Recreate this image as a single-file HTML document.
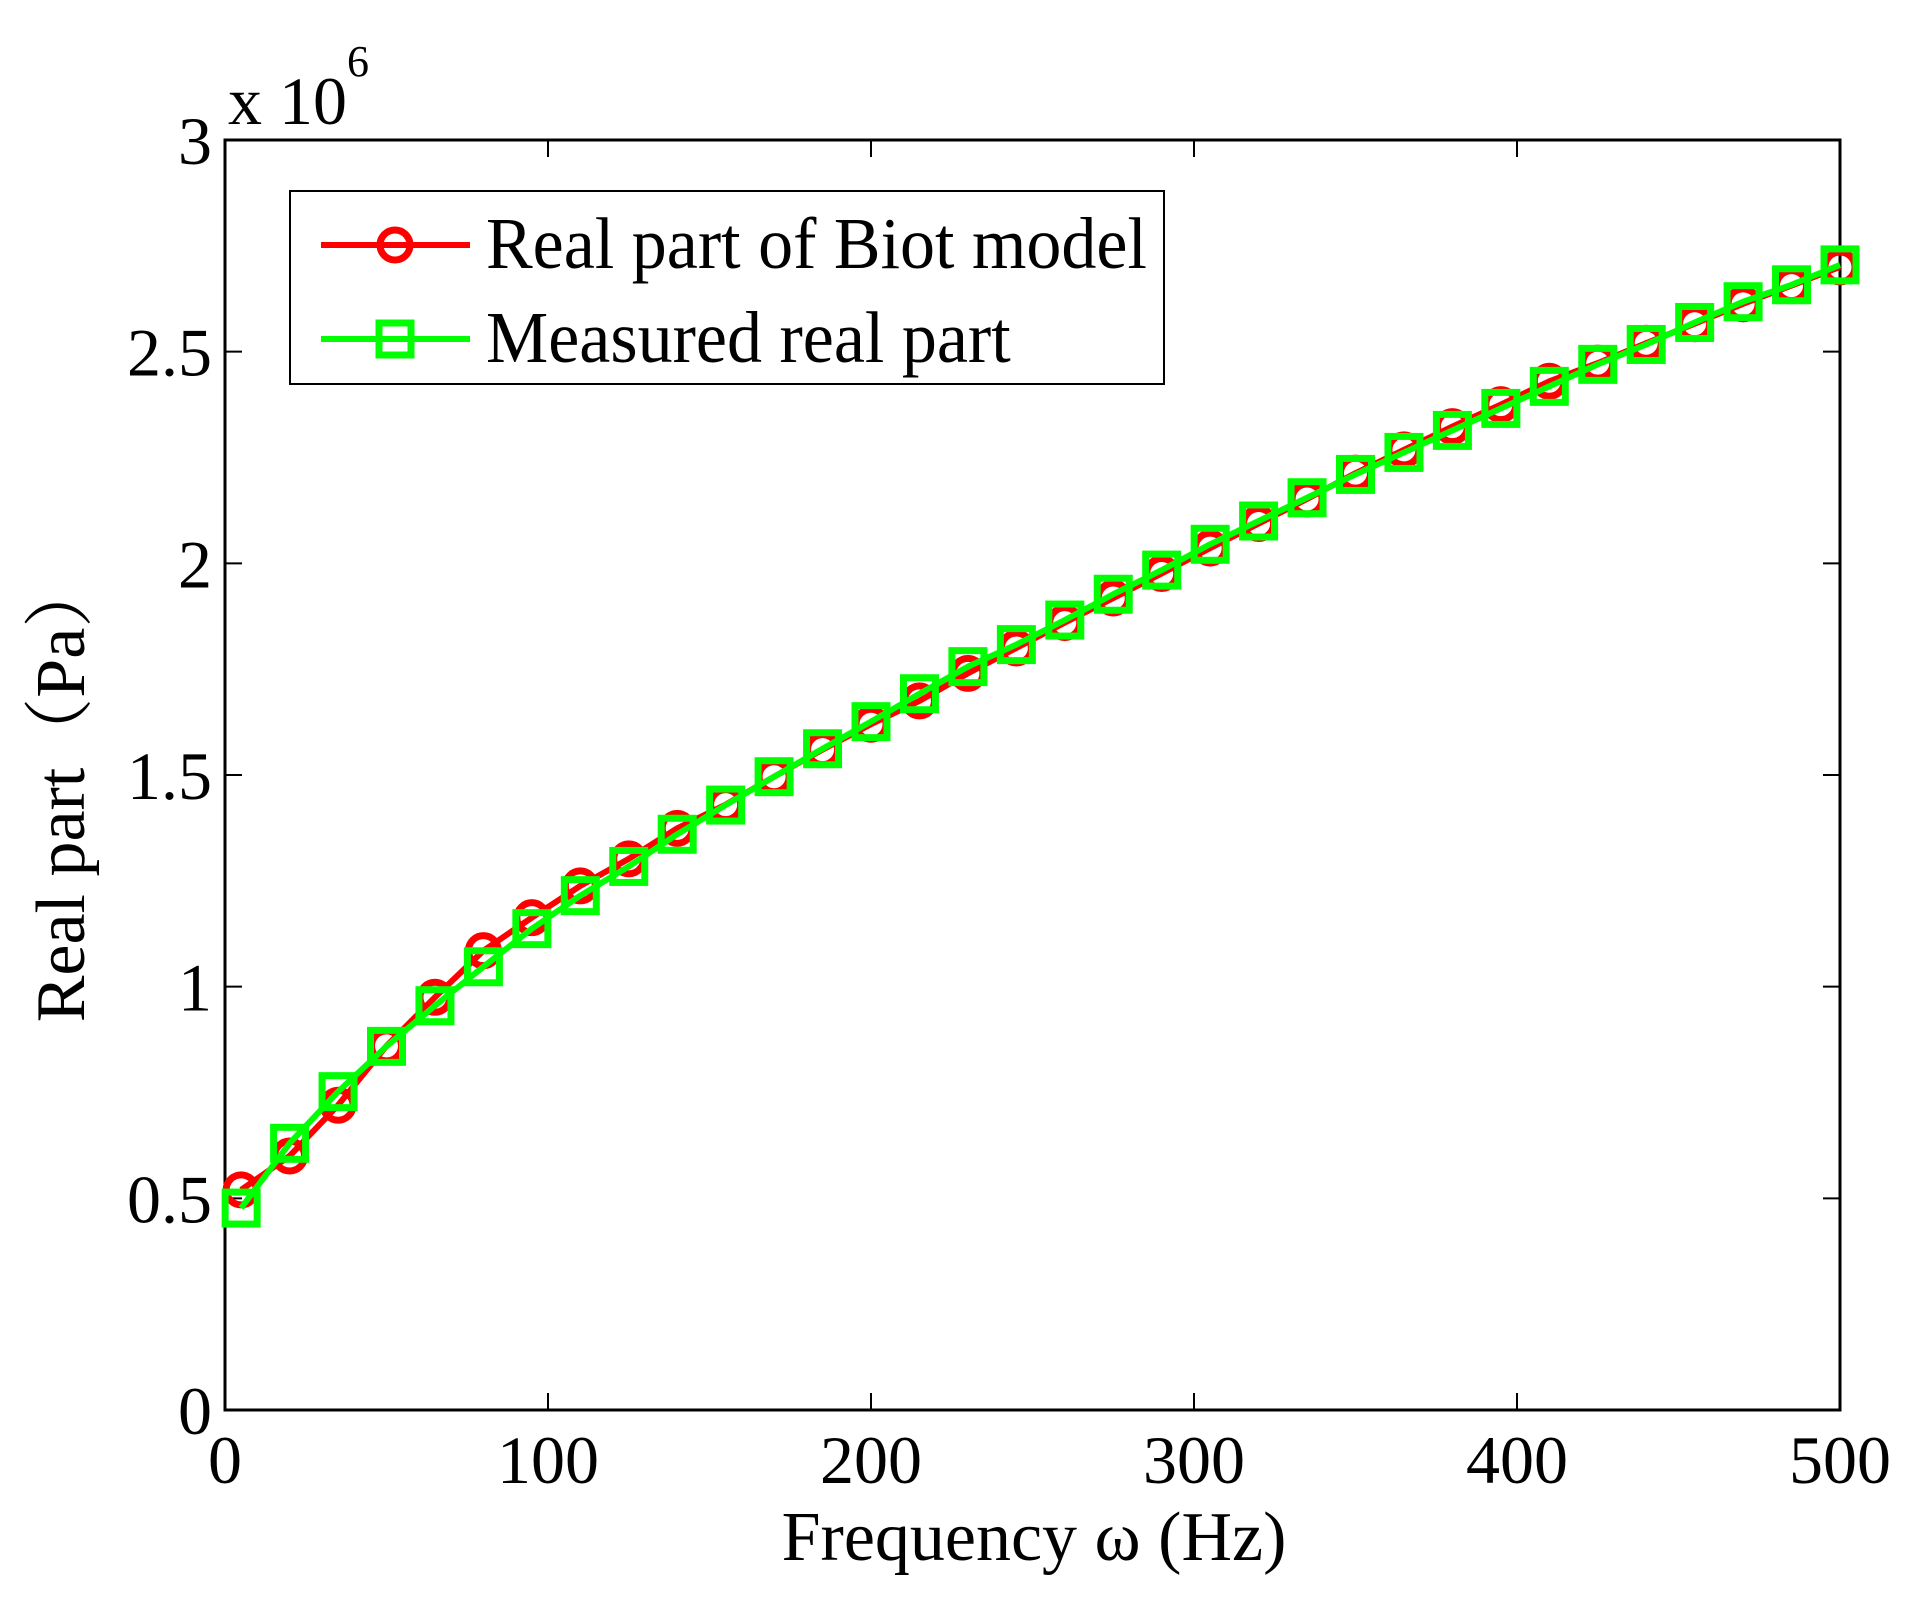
<!DOCTYPE html>
<html><head><meta charset="utf-8"><style>
body{margin:0;background:#fff}
svg{display:block}
text{font-family:"Liberation Serif","Noto Serif CJK SC",serif;fill:#000}
</style></head><body>
<svg id="chart" width="1922" height="1603" viewBox="0 0 1922 1603">
<g id="axes"></g>
<g id="series"></g>
<g id="legend">
<rect x="290" y="191" width="874" height="193" fill="#fff" stroke="#000" stroke-width="2"/>
<g>
<line x1="321" y1="245" x2="470" y2="245" stroke="#ff0000" stroke-width="6"/>
<circle cx="395" cy="245" r="15" fill="none" stroke="#ff0000" stroke-width="7"/>
<text x="486" y="268" font-size="70" transform="translate(486,268) scale(1,1.05) translate(-486,-268)">Real part of Biot model</text>
</g>
<g>
<line x1="321" y1="339" x2="470" y2="339" stroke="#00ff00" stroke-width="6"/>
<rect x="379" y="323" width="32" height="32" fill="none" stroke="#00ff00" stroke-width="7"/>
<text x="486" y="362" font-size="70" transform="translate(486,362) scale(1,1.05) translate(-486,-362)">Measured real part</text>
</g>
</g>
<text x="1034" y="1560" font-size="70" text-anchor="middle">Frequency ω (Hz)</text>
<text transform="translate(84,790) rotate(-90)" font-size="70" text-anchor="middle">Real part（Pa）</text>
<text x="228" y="124" font-size="68">x 10</text>
<text x="347" y="76" font-size="44">6</text>
</svg>
<script>
const xTicks=[0,100,200,300,400,500];
const yTicks=[0,0.5,1,1.5,2,2.5,3];
const yTickLabels=["0","0.5","1","1.5","2","2.5","3"];
const freqs=[5,20,35,50,65,80,95,110,125,140,155,170,185,200,215,230,245,260,275,290,305,320,335,350,365,380,395,410,425,440,455,470,485,500];
const biotReal=[0.52,0.60,0.72,0.86,0.975,1.085,1.163,1.238,1.302,1.374,1.43,1.496,1.56,1.62,1.675,1.74,1.80,1.86,1.918,1.976,2.036,2.094,2.152,2.213,2.268,2.323,2.375,2.43,2.473,2.52,2.566,2.613,2.656,2.70];
const measuredReal=[0.477,0.63,0.752,0.859,0.955,1.047,1.137,1.215,1.284,1.36,1.429,1.496,1.562,1.626,1.692,1.756,1.808,1.866,1.927,1.984,2.045,2.100,2.155,2.210,2.262,2.314,2.366,2.418,2.470,2.517,2.569,2.618,2.658,2.705];

const L=225,R=1840,T=140,B=1410;
const xs=v=>L+(v-0)/(500-0)*(R-L);
const ys=v=>B-(v-0)/(3-0)*(B-T);
const NS="http://www.w3.org/2000/svg";
function mk(tag,attrs,parent){const e=document.createElementNS(NS,tag);for(const k in attrs)e.setAttribute(k,attrs[k]);parent.appendChild(e);return e;}
const axes=document.getElementById('axes');
const frame=mk('rect',{x:L,y:T,width:R-L,height:B-T,fill:'none',stroke:'#000','stroke-width':3},axes);


xTicks.forEach(t=>{
  const x=xs(t);
  const g=mk('g',{},axes);
  
  
  mk('line',{x1:x,y1:B,x2:x,y2:B-17,stroke:'#000','stroke-width':2},g);
  mk('line',{x1:x,y1:T,x2:x,y2:T+17,stroke:'#000','stroke-width':2},g);
  const tx=mk('text',{x:x,y:1483,'font-size':68,'text-anchor':'middle'},g);
  tx.textContent=String(t);
});
yTicks.forEach((t,i)=>{
  const y=ys(t);
  const g=mk('g',{},axes);
  
  
  mk('line',{x1:L,y1:y,x2:L+17,y2:y,stroke:'#000','stroke-width':2},g);
  mk('line',{x1:R,y1:y,x2:R-17,y2:y,stroke:'#000','stroke-width':2},g);
  const tx=mk('text',{x:212,y:y+24,'font-size':68,'text-anchor':'end'},g);
  tx.textContent=yTickLabels[i];
});
const series=document.getElementById('series');
function drawSeries(vals,color,kind,name){
  const g=mk('g',{},series);
  
  
  const pts=freqs.map((f,i)=>xs(f)+','+ys(vals[i])).join(' ');
  mk('polyline',{points:pts,fill:'none',stroke:color,'stroke-width':6,'stroke-linejoin':'round'},g);
  freqs.forEach((f,i)=>{
    const x=xs(f),y=ys(vals[i]);
    let m;
    if(kind==='circle') m=mk('circle',{cx:x,cy:y,r:15,fill:'none',stroke:color,'stroke-width':7},g);
    else m=mk('rect',{x:x-16,y:y-16,width:32,height:32,fill:'none',stroke:color,'stroke-width':7},g);
    
    
  });
}
drawSeries(biotReal,'#ff0000','circle','biot-model-series');
drawSeries(measuredReal,'#00ff00','square','measured-series');
</script>
</body></html>
